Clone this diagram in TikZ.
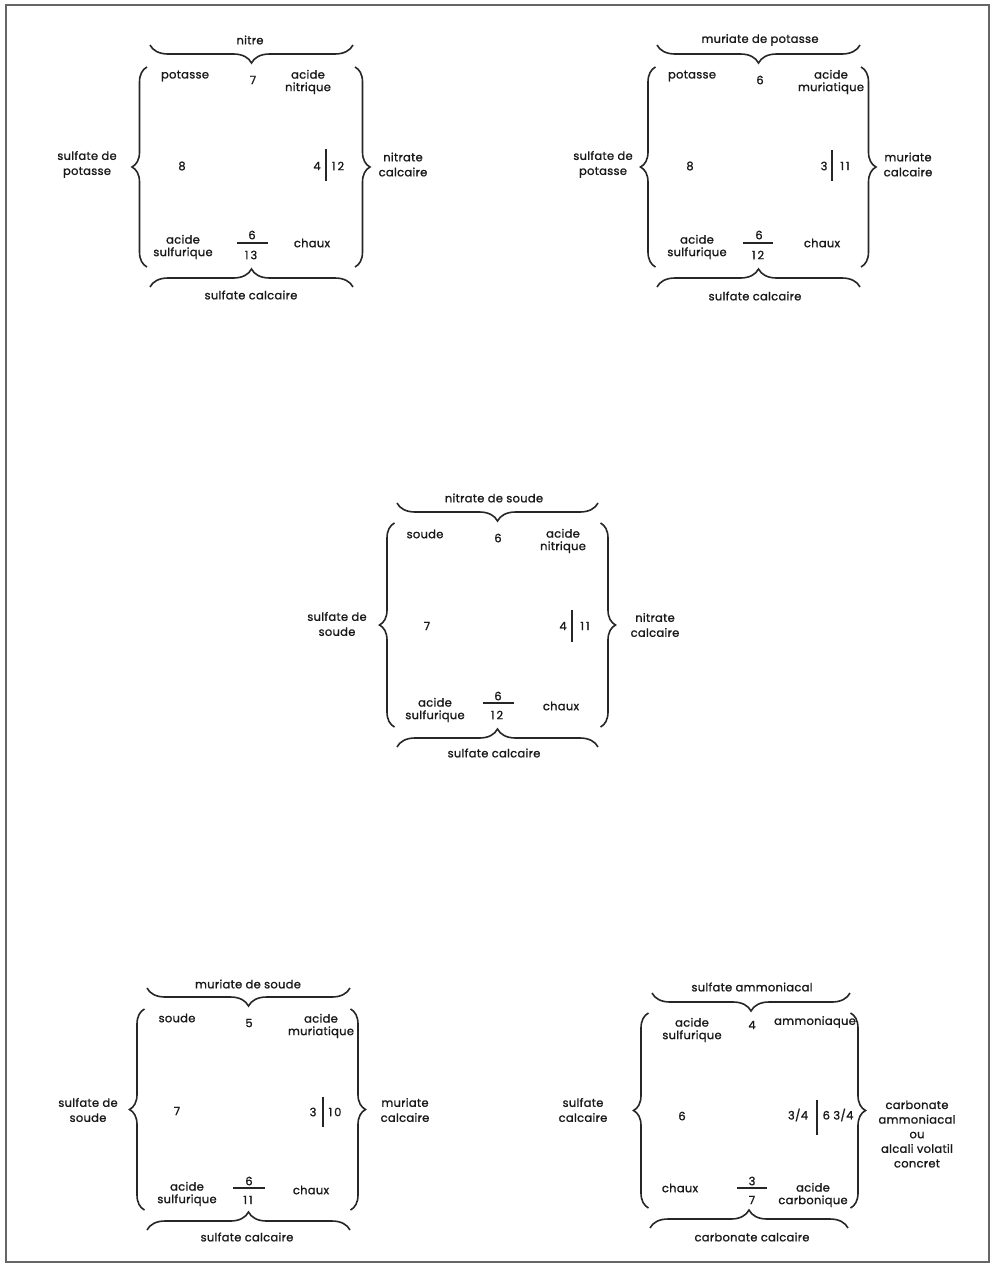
\documentclass[tikz,border=0pt]{standalone}
\usepackage{fontspec}
\setmainfont{Poppins}[FakeBold=1.2,LetterSpace=2.5]
\usetikzlibrary{decorations.pathreplacing}
\begin{document}
\begin{tikzpicture}[x=1pt,y=-1pt,
  lbl/.style={font=\fontsize{11.5}{12.5}\selectfont, inner sep=0pt, align=center, text=black!90},
  wide/.style={font=\fontsize{11.5}{15}\selectfont},
  brc/.style={decorate, decoration={brace, amplitude=18pt}, line width=1.6pt, draw=black!85},
  sbrc/.style={decorate, decoration={brace, amplitude=15pt}, line width=1.6pt, draw=black!85},
  barline/.style={line width=1.4pt, draw=black!85},
  frame/.style={line width=1.8pt, draw=black!60}]
\useasboundingbox (0,0) rectangle (994,1266);
\draw[frame] (6,5) coordinate (f1) rectangle (989,1262) coordinate (f2);

% ---------- Diagram 1 ----------
\draw[brc] (353,45) coordinate (a1t2) -- (150,45) coordinate (a1t1);
\draw[brc] (150,287) coordinate (a1b1) -- (353,287) coordinate (a1b2);
\draw[sbrc] (147,267) coordinate (a1l2) -- (147,67) coordinate (a1l1);
\draw[sbrc] (355,67) coordinate (a1r1) -- (355,267) coordinate (a1r2);
\node[lbl] (n1top) at (250,40) {nitre};
\node[lbl] (n1a) at (185,76) {potasse};
\node[lbl] (n1b) at (253,80) {7};
\node[lbl] (n1c) at (308,82) {acide\\nitrique};
\node[lbl,wide] (n1left) at (87,164.5) {sulfate de\\potasse};
\node[lbl] (n1d) at (182,166) {8};
\node[lbl] (n1e) at (317,166) {4};
\draw[barline] (326,149) coordinate (v1a) -- (326,181) coordinate (v1b);
\node[lbl] (n1f) at (338,166) {1\,2};
\node[lbl,wide] (n1right) at (403,164.5) {nitrate\\calcaire};
\node[lbl] (n1g) at (183,247) {acide\\sulfurique};
\draw[barline] (237,243) coordinate (h1a) -- (268,243) coordinate (h1b);
\node[lbl] (n1h) at (252,235) {6};
\node[lbl] (n1i) at (251,255) {1\,3};
\node[lbl] (n1j) at (312,243) {chaux};
\node[lbl] (n1bot) at (251,295) {sulfate calcaire};

% ---------- Diagram 2 ----------
\draw[brc] (860,45) coordinate (a2t2) -- (657,45) coordinate (a2t1);
\draw[brc] (657,287) coordinate (a2b1) -- (860,287) coordinate (a2b2);
\draw[sbrc] (655.5,267) coordinate (a2l2) -- (655.5,67) coordinate (a2l1);
\draw[sbrc] (861,67) coordinate (a2r1) -- (861,267) coordinate (a2r2);
\node[lbl] (n2top) at (760,40) {muriate de potasse};
\node[lbl] (n2a) at (692,76) {potasse};
\node[lbl] (n2b) at (760,80) {6};
\node[lbl] (n2c) at (831,82) {acide\\muriatique};
\node[lbl,wide] (n2left) at (603,164.5) {sulfate de\\potasse};
\node[lbl] (n2d) at (690,166) {8};
\node[lbl] (n2e) at (824,166) {3};
\draw[barline] (832,150) coordinate (v2a) -- (832,181) coordinate (v2b);
\node[lbl] (n2f) at (845,166) {1\,1};
\node[lbl,wide] (n2right) at (908,164.5) {muriate\\calcaire};
\node[lbl] (n2g) at (697,247) {acide\\sulfurique};
\draw[barline] (743,243) coordinate (h2a) -- (773,243) coordinate (h2b);
\node[lbl] (n2h) at (759,235) {6};
\node[lbl] (n2i) at (758,255) {1\,2};
\node[lbl] (n2j) at (822,243) {chaux};
\node[lbl] (n2bot) at (755,296) {sulfate calcaire};

% ---------- Diagram 3 ----------
\draw[brc] (598,503) coordinate (a3t2) -- (397,503) coordinate (a3t1);
\draw[brc] (397,747) coordinate (a3b1) -- (598,747) coordinate (a3b2);
\draw[sbrc] (394.5,727) coordinate (a3l2) -- (394.5,523) coordinate (a3l1);
\draw[sbrc] (600.5,523) coordinate (a3r1) -- (600.5,727) coordinate (a3r2);
\node[lbl] (n3top) at (494,498) {nitrate de soude};
\node[lbl] (n3a) at (425,534) {soude};
\node[lbl] (n3b) at (498,538) {6};
\node[lbl] (n3c) at (563,541) {acide\\nitrique};
\node[lbl,wide] (n3left) at (337,624) {sulfate de\\soude};
\node[lbl] (n3d) at (427,626) {7};
\node[lbl] (n3e) at (563,626) {4};
\draw[barline] (572,610) coordinate (v3a) -- (572,642) coordinate (v3b);
\node[lbl] (n3f) at (585,626) {1\,1};
\node[lbl,wide] (n3right) at (655,625) {nitrate\\calcaire};
\node[lbl] (n3g) at (435,710) {acide\\sulfurique};
\draw[barline] (483,703) coordinate (h3a) -- (514,703) coordinate (h3b);
\node[lbl] (n3h) at (498,696) {6};
\node[lbl] (n3i) at (497,715) {1\,2};
\node[lbl] (n3j) at (561,706) {chaux};
\node[lbl] (n3bot) at (494,753) {sulfate calcaire};

% ---------- Diagram 4 ----------
\draw[brc] (350,988) coordinate (a4t2) -- (147,988) coordinate (a4t1);
\draw[brc] (147,1230) coordinate (a4b1) -- (350,1230) coordinate (a4b2);
\draw[sbrc] (144.5,1210) coordinate (a4l2) -- (144.5,1009) coordinate (a4l1);
\draw[sbrc] (350.5,1009) coordinate (a4r1) -- (350.5,1210) coordinate (a4r2);
\node[lbl] (n4top) at (248,984) {muriate de soude};
\node[lbl] (n4a) at (177,1018) {soude};
\node[lbl] (n4b) at (249,1023) {5};
\node[lbl] (n4c) at (321,1026) {acide\\muriatique};
\node[lbl,wide] (n4left) at (88,1110) {sulfate de\\soude};
\node[lbl] (n4d) at (177,1111) {7};
\node[lbl] (n4e) at (313,1112) {3};
\draw[barline] (323,1097) coordinate (v4a) -- (323,1127) coordinate (v4b);
\node[lbl] (n4f) at (335,1112) {1\,0};
\node[lbl,wide] (n4right) at (405,1110) {muriate\\calcaire};
\node[lbl] (n4g) at (187,1194) {acide\\sulfurique};
\draw[barline] (233,1188) coordinate (h4a) -- (265,1188) coordinate (h4b);
\node[lbl] (n4h) at (249,1181) {6};
\node[lbl] (n4i) at (248,1200) {1\,1};
\node[lbl] (n4j) at (311,1190) {chaux};
\node[lbl] (n4bot) at (247,1237) {sulfate calcaire};

% ---------- Diagram 5 ----------
\draw[brc] (850,993) coordinate (a5t2) -- (652,993) coordinate (a5t1);
\draw[brc] (650,1228) coordinate (a5b1) -- (848,1228) coordinate (a5b2);
\draw[sbrc] (648.5,1208) coordinate (a5l2) -- (648.5,1013) coordinate (a5l1);
\draw[sbrc] (850.5,1013) coordinate (a5r1) -- (850.5,1208) coordinate (a5r2);
\node[lbl] (n5top) at (752,987) {sulfate ammoniacal};
\node[lbl] (n5a) at (692,1030) {acide\\sulfurique};
\node[lbl] (n5b) at (752,1025) {4};
\node[lbl] (n5c) at (815,1022) {ammoniaque};
\node[lbl,wide] (n5left) at (583,1110) {sulfate\\calcaire};
\node[lbl] (n5d) at (682,1116) {6};
\node[lbl] (n5e) at (798,1115) {3/4};
\draw[barline] (817,1100) coordinate (v5a) -- (817,1135) coordinate (v5b);
\node[lbl] (n5f) at (838,1115) {6 3/4};
\node[lbl,font=\fontsize{11.5}{14.6}\selectfont] (n5right) at (917,1134) {carbonate\\ammoniacal\\ou\\alcali volatil\\concret};
\node[lbl] (n5g) at (680,1188) {chaux};
\draw[barline] (737,1188) coordinate (h5a) -- (767,1188) coordinate (h5b);
\node[lbl] (n5h) at (752,1181) {3};
\node[lbl] (n5i) at (752,1200) {7};
\node[lbl] (n5j) at (813,1195) {acide\\carbonique};
\node[lbl] (n5bot) at (752,1237) {carbonate calcaire};
\end{tikzpicture}
\end{document}
